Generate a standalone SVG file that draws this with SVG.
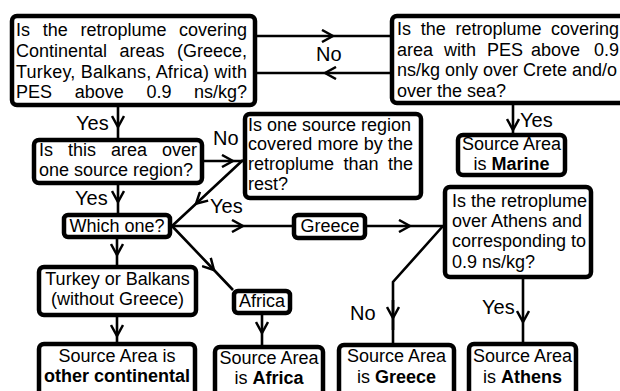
<svg xmlns="http://www.w3.org/2000/svg" width="620" height="391" viewBox="0 0 620 391">
<style>
.box{fill:#fff;stroke:#000;stroke-width:4.5}
.c{fill:none;stroke:#000;stroke-width:2.6;marker-mid:url(#a)}
.p{fill:none;stroke:#000;stroke-width:2.6}
text{font-family:"Liberation Sans",Arial,sans-serif;font-size:18px;fill:#000}
.l{font-size:20px}
.m{text-anchor:middle}
.e{text-anchor:end}
.b{font-weight:bold}
</style>
<defs>
<marker id="a" viewBox="-12 -7 14 14" refX="0" refY="0" markerWidth="14" markerHeight="14" markerUnits="userSpaceOnUse" orient="auto">
<path d="M-11,-6 L0,0 L-11,6" fill="none" stroke="#000" stroke-width="2.5"/>
</marker>
</defs>
<rect width="620" height="391" fill="#fff"/>
<g id="connectors">
<path class="c" d="M257,36 L333,36 L390,36"/>
<path class="c" d="M390,73 L325,73 L257,73"/>
<path class="c" d="M118,107 L118,127 L118,138"/>
<path class="c" d="M118,185 L118,202 L118,213"/>
<path class="c" d="M204,161 L233,161 L243,161"/>
<path class="c" d="M243,160 L196,203.7 L172,226"/>
<path class="c" d="M172,226 L243,226 L292,226"/>
<path class="c" d="M172,226 L214,270 L233,290"/>
<path class="c" d="M117,239 L117,255 L117,265"/>
<path class="c" d="M117,317 L117,336 L117,342"/>
<path class="c" d="M262,315 L262,333 L262,345"/>
<path class="c" d="M367,226 L410,226 L443,226"/>
<path class="p" d="M443,226 L393,282 L393,343"/>
<path class="c" d="M393,300 L393,318 L393,330"/>
<path class="c" d="M513,105 L513,130 L513,133"/>
<path class="c" d="M523,279 L523,322 L523,342"/>
<text class="l" x="316" y="61">No</text>
<text class="l" x="76" y="130">Yes</text>
<text class="l" x="75" y="205">Yes</text>
<text class="l" x="213" y="145">No</text>
<text class="l" x="210" y="213">Yes</text>
<text class="l" x="520" y="127">Yes</text>
<text class="l" x="350" y="320">No</text>
<text class="l" x="482" y="314">Yes</text>
</g>
<g id="q1">
<rect class="box" x="12" y="16" width="243" height="89" rx="5"/>
<text y="36"><tspan x="16">Is</tspan><tspan x="42.7">the</tspan><tspan x="80.4">retroplume</tspan><tspan class="e" x="247">covering</tspan></text>
<text y="57"><tspan x="16">Continental</tspan><tspan x="119.5">areas</tspan><tspan class="e" x="247">(Greece,</tspan></text>
<text x="16" y="78" textLength="231" lengthAdjust="spacing">Turkey, Balkans, Africa) with</text>
<text y="98"><tspan x="16">PES</tspan><tspan x="74.7">above</tspan><tspan x="146.4">0.9</tspan><tspan class="e" x="247">ns/kg?</tspan></text>
</g>
<g id="q2">
<rect class="box" x="392" y="16" width="240" height="87" rx="5"/>
<text y="35"><tspan x="397">Is</tspan><tspan x="420.7">the</tspan><tspan x="455.4">retroplume</tspan><tspan class="e" x="619">covering</tspan></text>
<text y="56"><tspan x="397">area</tspan><tspan x="444">with</tspan><tspan x="487">PES</tspan><tspan x="531">above</tspan><tspan x="594">0.9</tspan></text>
<text x="397" y="76">ns/kg only over Crete and/o</text>
<text x="397" y="97">over the sea?</text>
</g>
<g id="q3">
<rect class="box" x="34" y="140" width="168" height="43" rx="5"/>
<text y="156"><tspan x="39">Is</tspan><tspan x="68">this</tspan><tspan x="111">area</tspan><tspan class="e" x="197">over</tspan></text>
<text x="39" y="176">one source region?</text>
</g>
<g id="q4">
<rect class="box" x="245" y="114" width="176" height="84" rx="5"/>
<text x="248" y="131">Is one source region</text>
<text x="248" y="150" textLength="165" lengthAdjust="spacing">covered more by the</text>
<text y="170"><tspan x="248">retroplume</tspan><tspan x="343.5">than</tspan><tspan class="e" x="413">the</tspan></text>
<text x="248" y="190">rest?</text>
</g>
<g id="which">
<rect class="box" x="64" y="215" width="106" height="22" rx="4"/>
<text class="m" x="117" y="232">Which one?</text>
</g>
<g id="greece">
<rect class="box" x="294" y="215" width="71" height="23" rx="4"/>
<text class="m" x="330" y="232">Greece</text>
</g>
<g id="marine">
<rect class="box" x="458" y="135" width="107" height="40" rx="5"/>
<text class="m" x="511.5" y="150">Source Area</text>
<text class="m" x="511.5" y="170">is <tspan class="b">Marine</tspan></text>
</g>
<g id="q5">
<rect class="box" x="445" y="187" width="146" height="90" rx="5"/>
<text x="452" y="207">Is the retroplume</text>
<text x="452" y="227">over Athens and</text>
<text x="452" y="247">corresponding to</text>
<text x="452" y="268">0.9 ns/kg?</text>
</g>
<g id="turkey">
<rect class="box" x="39" y="267" width="157" height="48" rx="5"/>
<text class="m" x="117.5" y="285">Turkey or Balkans</text>
<text class="m" x="117.5" y="305">(without Greece)</text>
</g>
<g id="africa">
<rect class="box" x="234" y="291" width="56" height="22" rx="4"/>
<text class="m" x="262" y="307">Africa</text>
</g>
<g id="r-other">
<rect class="box" x="39" y="344" width="156" height="60" rx="5"/>
<text class="m" x="117" y="362">Source Area is</text>
<text class="m b" x="117" y="382">other continental</text>
</g>
<g id="r-africa">
<rect class="box" x="215" y="347" width="108" height="60" rx="5"/>
<text class="m" x="269" y="364">Source Area</text>
<text class="m" x="269" y="384">is <tspan class="b">Africa</tspan></text>
</g>
<g id="r-greece">
<rect class="box" x="339" y="345" width="115" height="60" rx="5"/>
<text class="m" x="396.5" y="362">Source Area</text>
<text class="m" x="396.5" y="383">is <tspan class="b">Greece</tspan></text>
</g>
<g id="r-athens">
<rect class="box" x="469" y="344" width="107" height="60" rx="5"/>
<text class="m" x="522.5" y="362">Source Area</text>
<text class="m" x="522.5" y="383">is <tspan class="b">Athens</tspan></text>
</g>
</svg>
